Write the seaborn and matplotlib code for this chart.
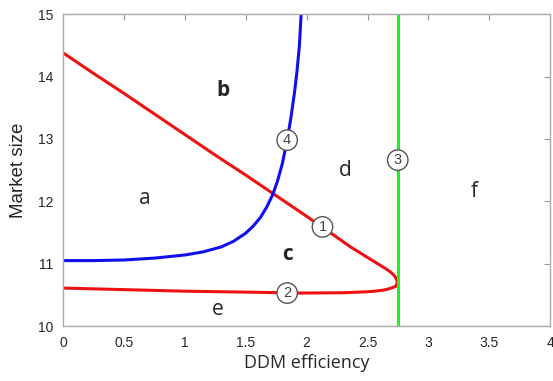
import matplotlib
matplotlib.use("Agg")
import matplotlib.pyplot as plt
import seaborn as sns
import pandas as pd

# boundary curves (DDM efficiency, market size)
upper_red_x = [0.0, 0.25, 0.5, 0.75, 1.0, 1.25, 1.5, 1.75, 2.0, 2.2, 2.36, 2.5, 2.6, 2.65, 2.69, 2.715,
               2.73, 2.74, 2.745]
upper_red_y = [14.38, 14.05, 13.73, 13.40, 13.07, 12.74, 12.42, 12.09, 11.76, 11.49, 11.27, 11.10, 10.98,
               10.92, 10.865, 10.82, 10.78, 10.74, 10.71]
lower_red_x = [2.745, 2.74, 2.73, 2.71, 2.67, 2.63, 2.56, 2.49, 2.3, 1.95, 1.8, 1.5, 1.0, 0.5, 0.0]
lower_red_y = [10.71, 10.67, 10.64, 10.62, 10.595, 10.577, 10.56, 10.55, 10.535, 10.53, 10.535, 10.545,
               10.56, 10.585, 10.61]
blue_x = [0.0, 0.25, 0.5, 0.75, 1.0, 1.15, 1.3, 1.4, 1.5, 1.56, 1.62, 1.67, 1.72, 1.76, 1.8, 1.84, 1.87,
          1.9, 1.92, 1.94, 1.955]
blue_y = [11.05, 11.05, 11.06, 11.09, 11.14, 11.19, 11.27, 11.36, 11.49, 11.60, 11.74, 11.90, 12.10, 12.32,
          12.60, 12.98, 13.33, 13.74, 14.07, 14.48, 15.0]
green_x = [2.748, 2.748]
green_y = [10.0, 15.0]

region_labels = ["a", "b", "c", "d", "e", "f"]
region_x = [0.67, 1.31, 1.84, 2.32, 1.27, 3.38]
region_y = [12.04, 13.77, 11.15, 12.5, 10.27, 12.15]
region_bold = [False, True, True, False, False, False]

curve_ids = ["1", "2", "3", "4"]
curve_id_x = [2.13, 1.84, 2.748, 1.84]
curve_id_y = [11.59, 10.53, 12.66, 12.98]

sns.set_style("white")
plt.rcParams["font.family"] = ["Liberation Sans", "DejaVu Sans"]

fig = plt.figure(figsize=(5.53, 3.81), dpi=100)
ax = fig.add_axes([0.114, 0.144, 0.881, 0.819])

curves = [(upper_red_x, upper_red_y, "#ee1111"),
          (lower_red_x, lower_red_y, "#ee1111"),
          (blue_x, blue_y, "#1010ee"),
          (green_x, green_y, "#22ee22")]
for xs, ys, c in curves:
    df = pd.DataFrame({"x": xs, "y": ys})
    sns.lineplot(data=df, x="x", y="y", sort=False, estimator=None,
                 color=c, linewidth=2.2, ax=ax)

for lab, x, y, b in zip(region_labels, region_x, region_y, region_bold):
    ax.text(x, y, lab, ha="center", va="center", fontsize=15,
            fontweight="bold" if b else "normal",
            family=["Open Sans", "DejaVu Sans"])

for lab, x, y in zip(curve_ids, curve_id_x, curve_id_y):
    ax.text(x, y, lab, ha="center", va="center", fontsize=10.5, color="#444444",
            bbox=dict(boxstyle="circle,pad=0.22", fc="white", ec="#555555", lw=1))

ax.set_xlim(0, 4)
ax.set_ylim(10, 15)
ax.set_xticks([0, 0.5, 1, 1.5, 2, 2.5, 3, 3.5, 4])
ax.set_xticklabels(["0", "0.5", "1", "1.5", "2", "2.5", "3", "3.5", "4"])
ax.set_yticks([10, 11, 12, 13, 14, 15])
ax.tick_params(direction="in", top=True, right=True, length=4, color="#999999",
               labelsize=10, pad=7)
for s in ax.spines.values():
    s.set_color("#aaaaaa")
    s.set_linewidth(1)
ax.set_xlabel("DDM efficiency", fontsize=13, family=["Open Sans", "DejaVu Sans"], labelpad=3)
ax.set_ylabel("Market size", fontsize=13.5, labelpad=8)

fig.savefig("out.png", dpi=100)
